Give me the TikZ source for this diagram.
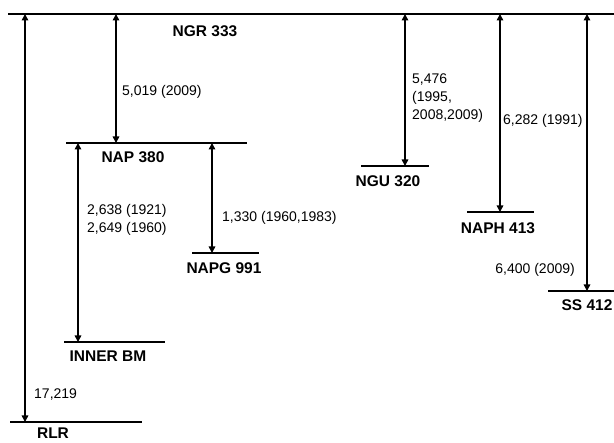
\documentclass[tikz,border=0pt]{standalone}
\usepackage{fontspec}
\setmainfont{Liberation Sans}
\usetikzlibrary{arrows.meta}
\begin{document}
\begin{tikzpicture}[x=1pt,y=-1pt,
  levelline/.style={line width=1.9pt},
  link/.style={line width=1.5pt,{Triangle[width=6.5pt,length=6.5pt]}-{Triangle[width=6.5pt,length=6.5pt]}},
  lbl/.style={font=\fontsize{15.5}{18}\selectfont\bfseries,inner sep=0pt},
  valtxt/.style={font=\fontsize{14}{18}\selectfont,inner sep=0pt,anchor=west,align=left}]
\useasboundingbox (0,0) rectangle (614,443);
% levels
\draw[levelline] (8,14) -- (614,14);
\draw[levelline] (66,143) -- (247,143);
\draw[levelline] (192,253) -- (259,253);
\draw[levelline] (64,342) -- (165,342);
\draw[levelline] (10,422) -- (142,422);
\draw[levelline] (361,166) -- (429,166);
\draw[levelline] (467,212) -- (534,212);
\draw[levelline] (548,291) -- (614,291);
% coordinates
\coordinate (t1) at (25,14);   \coordinate (b1) at (25,422);
\coordinate (t2) at (116,14);  \coordinate (b2) at (116,143);
\coordinate (t3) at (78,143);  \coordinate (b3) at (78,342);
\coordinate (t4) at (212,143); \coordinate (b4) at (212,253);
\coordinate (t5) at (405,14);  \coordinate (b5) at (405,166);
\coordinate (t6) at (500,14);  \coordinate (b6) at (500,212);
\coordinate (t7) at (587,14);  \coordinate (b7) at (587,291);
% arrows
\draw[link] (t1) -- (b1);
\draw[link] (t2) -- (b2);
\draw[link] (t3) -- (b3);
\draw[link] (t4) -- (b4);
\draw[link] (t5) -- (b5);
\draw[link] (t6) -- (b6);
\draw[link] (t7) -- (b7);
% names
\node[lbl] (ngr) at (205,31) {NGR 333};
\node[lbl] (nap) at (133,157) {NAP 380};
\node[lbl] (napg) at (224,268) {NAPG 991};
\node[lbl] (inner) at (108,356) {INNER BM};
\node[lbl] (rlr) at (53,433) {RLR};
\node[lbl] (ngu) at (388,181) {NGU 320};
\node[lbl] (naph) at (498,228) {NAPH 413};
\node[lbl] (ss) at (587,305) {SS 412};
% values
\node[valtxt] (v1) at (122,92) {5,019 (2009)};
\node[valtxt] (v2) at (87,220) {2,638 (1921)\\2,649 (1960)};
\node[valtxt] (v3) at (222,218) {1,330 (1960,1983)};
\node[valtxt] (v4) at (34,395) {17,219};
\node[valtxt] (v5) at (412,98) {5,476\\(1995,\\2008,2009)};
\node[valtxt] (v6) at (503,121) {6,282 (1991)};
\node[valtxt,anchor=east] (v7) at (575,270) {6,400 (2009)};
\end{tikzpicture}
\end{document}
